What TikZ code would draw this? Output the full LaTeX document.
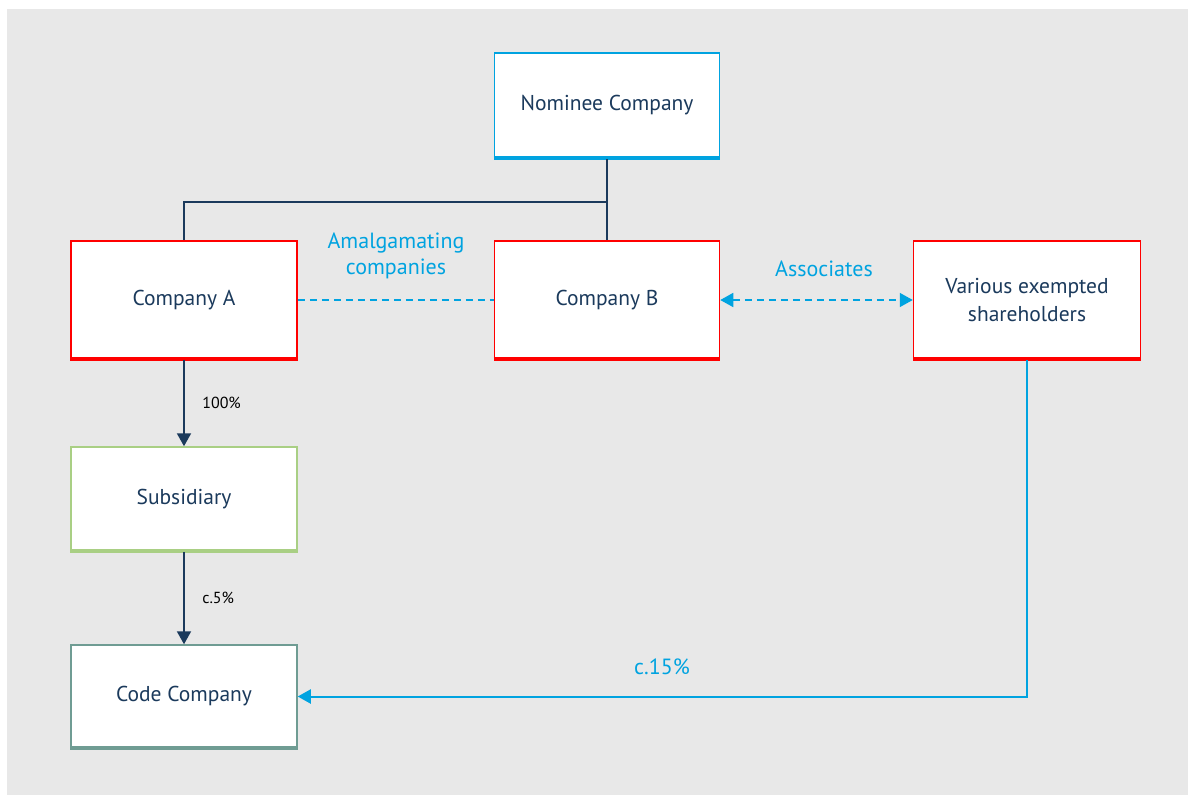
\documentclass[tikz,border=0pt]{standalone}
\usepackage{fontspec}
\setmainfont{PT Sans}
\usetikzlibrary{arrows.meta}
\definecolor{navy}{HTML}{1B3A5C}
\definecolor{cyanc}{HTML}{00A3E0}
\definecolor{redc}{HTML}{FF0000}
\definecolor{greenc}{HTML}{A9CF84}
\definecolor{tealc}{HTML}{6F9C93}
\definecolor{bgc}{HTML}{E8E8E8}
\tikzset{
  box/.style={draw=#1, fill=white, line width=1.5pt, minimum width=225pt, text=navy,
    font=\fontsize{21.5}{28}\selectfont, align=center, inner sep=0pt},
  conn/.style={navy, line width=2pt},
  tip/.style={-{Triangle[width=14pt,length=13pt]}},
  dashline/.style={cyanc, line width=1.6pt, dash pattern=on 7pt off 5pt},
  lab/.style={font=\fontsize{16}{18}\selectfont, text=black},
  clab/.style={font=\fontsize{22}{26}\selectfont, text=cyanc, align=center}
}
\newcommand{\bottomline}[2]{\draw[#2, line width=3.5pt] ([yshift=1pt]#1.south west) -- ([yshift=1pt]#1.south east);}
\begin{document}
\begin{tikzpicture}[x=1pt,y=-1pt]
\useasboundingbox (0,0) rectangle (1192,796);
\fill[bgc] (7,9) rectangle (1188,795);
\node[box=cyanc, minimum height=105pt] (nom) at (607,105.5) {Nominee Company};
\node[box=redc, minimum height=118pt, minimum width=226pt] (a) at (184,300) {Company A};
\node[box=redc, minimum height=118pt] (b) at (607,300) {Company B};
\node[box=redc, minimum height=118pt, minimum width=227pt] (v) at (1027,300) {Various exempted\\shareholders};
\node[box=greenc, minimum height=104pt, minimum width=226pt] (s) at (184,499) {Subsidiary};
\node[box=tealc, minimum height=103pt, minimum width=226pt] (c) at (184,696.5) {Code Company};
\bottomline{nom}{cyanc}
\bottomline{a}{redc}
\bottomline{b}{redc}
\bottomline{v}{redc}
\bottomline{s}{greenc}
\bottomline{c}{tealc}
\draw[conn] (nom.south) -- ++(0,43) coordinate (j) -| (a.north);
\draw[conn] (j) -- (b.north);
\draw[dashline] (a.east) -- (b.west);
\node[clab] (am) at (396,256) {Amalgamating\\companies};
\draw[dashline, {Triangle[width=14pt,length=13pt]}-{Triangle[width=14pt,length=13pt]}] (b.east) -- (v.west);
\node[clab] (as) at (824,269) {Associates};
\draw[conn, tip] (a.south) -- (s.north) node[midway, right=14pt, lab] (p1) {100\%};
\draw[conn, tip] (s.south) -- (c.north) node[midway, right=14pt, lab] (p2) {c.5\%};
\draw[cyanc, line width=2pt, tip] (v.south) |- (c.east);
\node[clab] (p3) at (662,667) {c.15\%};
\end{tikzpicture}
\end{document}
